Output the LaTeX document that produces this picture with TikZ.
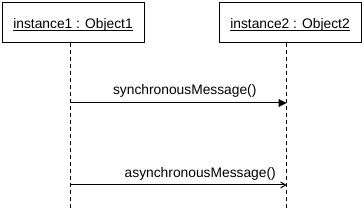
\documentclass[tikz,border=0pt]{standalone}
\usepackage{fontspec}
\setmainfont{Liberation Sans}
\usetikzlibrary{arrows.meta}
\newcommand\objul[1]{\underline{\smash{#1}}}
\begin{document}
\begin{tikzpicture}[x=1pt,y=-1pt,
  obj/.style={draw,line width=1pt,minimum width=142pt,minimum height=40pt,inner sep=0pt,
    text height=14pt,text depth=2pt,font=\fontsize{13.8}{16}\selectfont},
  life/.style={line width=1pt,dash pattern=on 4pt off 3pt},
  msg/.style={line width=1pt},
  lbl/.style={font=\fontsize{13.8}{16}\selectfont,inner sep=0pt}]
\useasboundingbox (0,0) rectangle (364,208);
\fill[white] (0,0) rectangle (364,208);
\node[obj] (o1) at (73,23) {\objul{instance1 : Object1}};
\node[obj] (o2) at (290,23) {\objul{instance2 : Object2}};
\coordinate (l1t) at (70,43);
\coordinate (l1b) at (70,208);
\coordinate (l2t) at (286.5,43);
\coordinate (l2b) at (286.5,208);
\coordinate (s1) at (70,103);
\coordinate (s2) at (286.5,103);
\coordinate (a1) at (70,185);
\coordinate (a2) at (286.5,185);
\draw[life] (l1t) -- (l1b);
\draw[life] (l2t) -- (l2b);
\draw[msg,-{Triangle[length=8pt,width=8pt]}] (s1) -- node[lbl,pos=0.53,anchor=base,yshift=8pt] (m1) {synchronousMessage()} (s2);
\draw[msg,-{Straight Barb[length=5pt,width=6pt]}] (a1) -- (a2);
\node[lbl,anchor=base east] (m2) at (276,178) {asynchronousMessage()};
\end{tikzpicture}
\end{document}
